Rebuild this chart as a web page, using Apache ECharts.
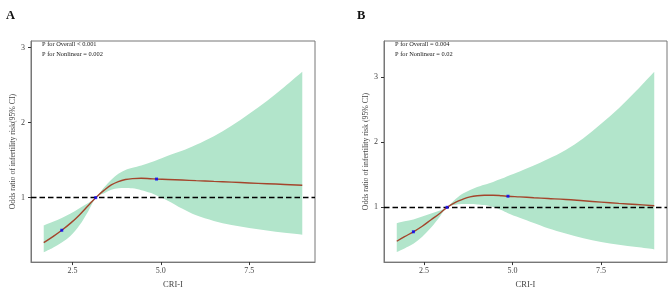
<!DOCTYPE html>
<html lang="en">
<head>
<meta charset="UTF-8">
<title>RCS CRI-I</title>
<script src="https://cdn.jsdelivr.net/npm/echarts@6/dist/echarts.min.js"></script>
<style>
  html, body { margin: 0; padding: 0; background: #fff; }
  #main { width: 669px; height: 294px; }
</style>
</head>
<body>
<div id="main"></div>
<script>
// panel A
var xA   = [1.69, 1.95, 2.2, 2.45, 2.7, 2.95, 3.16, 3.4, 3.6, 3.8, 4.0, 4.2, 4.45, 4.7, 4.88, 5.2, 5.6, 6.0, 6.5, 7.0, 7.5, 8.0, 8.5, 9.0];
var orA  = [0.40, 0.48, 0.565, 0.66, 0.77, 0.895, 1.0, 1.10, 1.17, 1.215, 1.242, 1.254, 1.258, 1.253, 1.248, 1.242, 1.235, 1.227, 1.217, 1.207, 1.196, 1.186, 1.176, 1.165];
var hiA  = [0.63, 0.68, 0.73, 0.79, 0.86, 0.93, 1.0, 1.14, 1.24, 1.32, 1.37, 1.40, 1.43, 1.47, 1.50, 1.56, 1.625, 1.705, 1.82, 1.96, 2.12, 2.29, 2.48, 2.68];
var loA  = [0.27, 0.33, 0.40, 0.49, 0.63, 0.82, 1.0, 1.06, 1.105, 1.125, 1.13, 1.125, 1.10, 1.065, 1.03, 0.96, 0.855, 0.765, 0.69, 0.635, 0.595, 0.56, 0.53, 0.505];
var knotA = [[2.2, 0.565], [3.16, 1.0], [4.88, 1.248]];

// panel B
var xB   = [1.73, 1.95, 2.2, 2.45, 2.7, 2.95, 3.15, 3.4, 3.6, 3.8, 4.0, 4.2, 4.45, 4.7, 4.87, 5.2, 5.6, 6.0, 6.5, 7.0, 7.5, 8.0, 8.5, 9.0];
var orB  = [0.48, 0.55, 0.625, 0.71, 0.81, 0.91, 1.0, 1.08, 1.125, 1.16, 1.178, 1.185, 1.186, 1.178, 1.17, 1.16, 1.147, 1.135, 1.12, 1.10, 1.08, 1.06, 1.043, 1.025];
var hiB  = [0.755, 0.785, 0.815, 0.86, 0.905, 0.95, 1.0, 1.13, 1.21, 1.265, 1.31, 1.345, 1.39, 1.44, 1.48, 1.55, 1.64, 1.74, 1.88, 2.06, 2.28, 2.52, 2.79, 3.08];
var loB  = [0.315, 0.37, 0.44, 0.55, 0.69, 0.86, 1.0, 1.04, 1.05, 1.05, 1.045, 1.035, 1.005, 0.955, 0.91, 0.84, 0.76, 0.68, 0.60, 0.525, 0.47, 0.425, 0.39, 0.355];
var knotB = [[2.2, 0.625], [3.15, 1.0], [4.87, 1.17]];

var xTicks = [2.5, 5.0, 7.5];
var yTicks = [1, 2, 3];
var refLine = 1;

var serif = 'Liberation Serif';
var green = '#b2e5cb';
var red = '#a4452c';

function zip(a, b) {
  return a.map(function (v, i) { return [v, b[i]]; });
}

// catmull-rom through pixel points -> bezier path segments (no initial M)
function splineSeg(p) {
  var s = '';
  for (var i = 0; i < p.length - 1; i++) {
    var p0 = p[Math.max(i - 1, 0)], p1 = p[i], p2 = p[i + 1], p3 = p[Math.min(i + 2, p.length - 1)];
    var c1 = [p1[0] + (p2[0] - p0[0]) / 6, p1[1] + (p2[1] - p0[1]) / 6];
    var c2 = [p2[0] - (p3[0] - p1[0]) / 6, p2[1] - (p3[1] - p1[1]) / 6];
    s += ' C' + c1[0] + ',' + c1[1] + ' ' + c2[0] + ',' + c2[1] + ' ' + p2[0] + ',' + p2[1];
  }
  return s;
}

function bandSeries(idx, xs, lo, hi) {
  return {
    type: 'custom',
    xAxisIndex: idx, yAxisIndex: idx,
    silent: true,
    z: 1,
    data: xs.map(function (v, i) { return [v, lo[i], hi[i]]; }),
    encode: { x: 0, y: [1, 2] },
    renderItem: function (params, api) {
      if (params.dataIndex !== 0) return null;
      var up = [], dn = [];
      for (var i = 0; i < xs.length; i++) up.push(api.coord([xs[i], hi[i]]));
      for (var j = xs.length - 1; j >= 0; j--) dn.push(api.coord([xs[j], lo[j]]));
      var d = 'M' + up[0][0] + ',' + up[0][1] + splineSeg(up) +
        ' L' + dn[0][0] + ',' + dn[0][1] + splineSeg(dn) + ' Z';
      return {
        type: 'path',
        shape: { pathData: d },
        style: { fill: green, stroke: null }
      };
    }
  };
}

function curveSeries(idx, xs, ys) {
  return {
    type: 'line',
    xAxisIndex: idx, yAxisIndex: idx,
    data: zip(xs, ys),
    smooth: 0.4,
    showSymbol: false,
    z: 3,
    lineStyle: { color: red, width: 1.4 },
    markLine: {
      silent: true,
      symbol: 'none',
      label: { show: false },
      lineStyle: { color: '#000', type: [5.5, 3], width: 1.3 },
      data: [{ yAxis: refLine }],
      z: 2
    }
  };
}

function knotSeries(idx, pts) {
  return {
    type: 'scatter',
    xAxisIndex: idx, yAxisIndex: idx,
    data: pts,
    symbol: 'rect',
    symbolSize: 3,
    z: 4,
    itemStyle: { color: '#0000ff' }
  };
}

function xAxisDef(idx, min, max) {
  return {
    type: 'value', gridIndex: idx, min: min, max: max,
    name: 'CRI-I', nameLocation: 'middle', nameGap: 15,
    nameTextStyle: { fontFamily: serif, fontSize: 8.5, color: '#444' },
    splitLine: { show: false },
    axisLine: { show: true, lineStyle: { color: '#777', width: 1 } },
    axisTick: { show: true, length: 3, customValues: xTicks, lineStyle: { color: '#333' } },
    axisLabel: {
      customValues: xTicks, margin: 5, fontFamily: serif, fontSize: 8, color: '#444',
      formatter: function (v) { return v.toFixed(1); }
    }
  };
}

function yAxisDef(idx, min, max, name) {
  return {
    type: 'value', gridIndex: idx, min: min, max: max,
    name: name, nameLocation: 'middle', nameGap: 12, nameRotate: 90,
    nameTextStyle: { fontFamily: serif, fontSize: 7.8, color: '#444' },
    splitLine: { show: false },
    axisLine: { show: true, lineStyle: { color: '#777', width: 1 } },
    axisTick: { show: true, length: 3, customValues: yTicks, lineStyle: { color: '#333' } },
    axisLabel: { customValues: yTicks, margin: 6, fontFamily: serif, fontSize: 8, color: '#444' }
  };
}

var myChart = echarts.init(document.getElementById('main'));

var option = {
  backgroundColor: '#fff',
  animation: false,
  title: [
    { text: 'A', left: 1, top: 4, textStyle: { fontFamily: serif, fontWeight: 'bold', fontSize: 12.5, color: '#111' } },
    { text: 'B', left: 352, top: 4, textStyle: { fontFamily: serif, fontWeight: 'bold', fontSize: 12.5, color: '#111' } }
  ],
  grid: [
    { left: 31, right: 354, top: 41, bottom: 27, show: true, borderColor: '#777', borderWidth: 1 },
    { left: 384, right: 2, top: 41, bottom: 27, show: true, borderColor: '#777', borderWidth: 1 }
  ],
  xAxis: [xAxisDef(0, 1.33, 9.36), xAxisDef(1, 1.37, 9.36)],
  yAxis: [
    yAxisDef(0, 0.14, 3.09, 'Odds ratio of infertility risk(95% CI)'),
    yAxisDef(1, 0.16, 3.55, 'Odds ratio of infertility risk (95% CI)')
  ],
  graphic: [
    { type: 'text', left: 42, top: 41.5, style: { text: 'P for Overall < 0.001', font: '6.4px "Liberation Serif"', fill: '#1a1a1a' } },
    { type: 'text', left: 42, top: 51, style: { text: 'P for Nonlinear = 0.002', font: '6.4px "Liberation Serif"', fill: '#1a1a1a' } },
    { type: 'text', left: 395, top: 41.5, style: { text: 'P for Overall = 0.004', font: '6.4px "Liberation Serif"', fill: '#1a1a1a' } },
    { type: 'text', left: 395, top: 51, style: { text: 'P for Nonlinear = 0.02', font: '6.4px "Liberation Serif"', fill: '#1a1a1a' } }
  ],
  series: [
    bandSeries(0, xA, loA, hiA),
    curveSeries(0, xA, orA),
    knotSeries(0, knotA),
    bandSeries(1, xB, loB, hiB),
    curveSeries(1, xB, orB),
    knotSeries(1, knotB)
  ]
};

myChart.setOption(option);
</script>
</body>
</html>
